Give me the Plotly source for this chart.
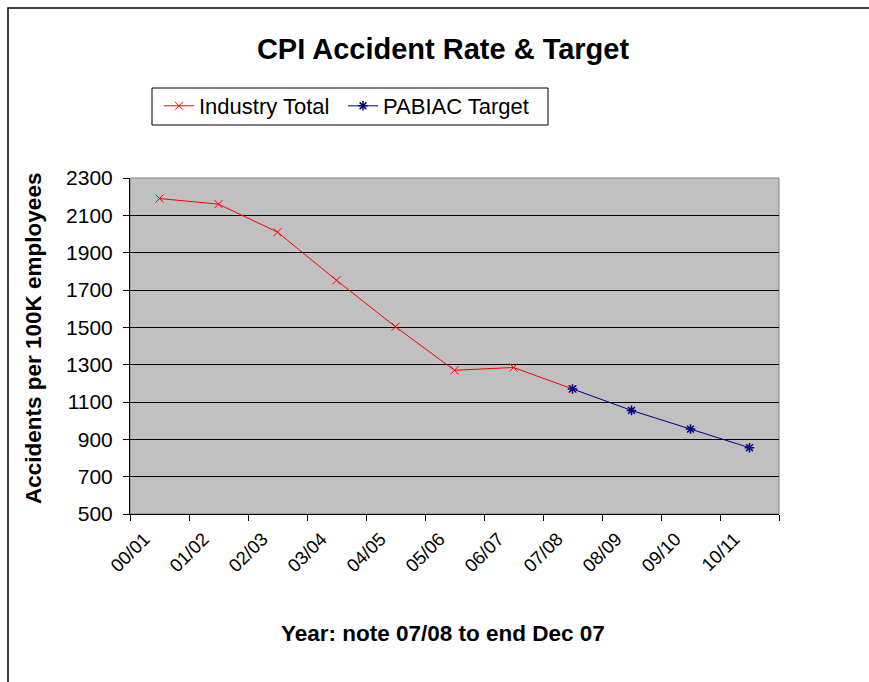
import plotly.graph_objects as go

categories = ["00/01", "01/02", "02/03", "03/04", "04/05", "05/06", "06/07", "07/08", "08/09", "09/10", "10/11"]
industry_cats = ["00/01", "01/02", "02/03", "03/04", "04/05", "05/06", "06/07", "07/08"]
industry_vals = [2190, 2160, 2010, 1752, 1503, 1270, 1285, 1170]
target_cats = ["07/08", "08/09", "09/10", "10/11"]
target_vals = [1170, 1055, 955, 855]
y_ticks = [500, 700, 900, 1100, 1300, 1500, 1700, 1900, 2100, 2300]

W, H = 869, 682
L, R, T, B = 130, 779, 178, 514


def px_x(p):
    return (p - L) / (R - L)


def px_y(p):
    return (B - p) / (B - T)


fig = go.Figure()
fig.add_trace(go.Scatter(
    x=industry_cats, y=industry_vals, name="Industry Total", mode="lines+markers",
    line=dict(color="#FF0000", width=1), legend="legend",
    marker=dict(symbol="x-thin-open", size=8, color="#FF0000", line=dict(color="#FF0000", width=1)),
))
fig.add_trace(go.Scatter(
    x=target_cats, y=target_vals, name="PABIAC Target", mode="lines+markers",
    line=dict(color="#000080", width=1), legend="legend2",
    marker=dict(symbol="asterisk-open", size=8, color="#000080", line=dict(color="#000080", width=1.5)),
))

font_family = "Liberation Sans, Arial, sans-serif"
legend_common = dict(orientation="h", xanchor="left", yanchor="middle", y=px_y(106),
                     borderwidth=0, bgcolor="rgba(0,0,0,0)",
                     font=dict(size=22, family=font_family), itemwidth=30)
fig.update_layout(
    width=W, height=H,
    margin=dict(l=L, r=W - R, t=T, b=H - B),
    paper_bgcolor="white", plot_bgcolor="#C0C0C0",
    font=dict(family=font_family, color="black", size=18),
    title=dict(text="<b>CPI Accident Rate &amp; Target</b>", x=443 / W, xanchor="center",
               y=1 - 49 / H, yanchor="middle", font=dict(size=29, family=font_family)),
    showlegend=True,
    legend=dict(x=px_x(159), **legend_common),
    legend2=dict(x=px_x(343), **legend_common),
    xaxis=dict(type="category", categoryorder="array", categoryarray=categories,
               range=[-0.5, 10.5], tickson="boundaries", ticks="outside", ticklen=6,
               tickcolor="black", showline=True, linecolor="black", linewidth=1,
               showgrid=False, tickangle=-45, tickfont=dict(size=18.5), zeroline=False,
               ticklabelshift=-15, ticklabelstandoff=6, fixedrange=True),
    yaxis=dict(range=[500, 2300], tickvals=y_ticks, ticks="outside", ticklen=6,
               tickcolor="black", showline=True, linecolor="black", linewidth=1,
               showgrid=True, gridcolor="black", gridwidth=1, zeroline=False,
               tickfont=dict(size=21), ticklabelstandoff=6),
    annotations=[
        dict(text="<b>Accidents per 100K employees</b>", xref="paper", yref="paper",
             x=px_x(33), y=px_y(339), textangle=-90, showarrow=False,
             xanchor="center", yanchor="middle", font=dict(size=22.5, family=font_family)),
        dict(text="<b>Year: note 07/08 to end Dec 07</b>", xref="paper", yref="paper",
             x=px_x(443), y=px_y(633), showarrow=False,
             xanchor="center", yanchor="middle", font=dict(size=22.5, family=font_family)),
    ],
    shapes=[
        dict(type="rect", xref="paper", yref="paper", x0=0, x1=1, y0=0, y1=1,
             line=dict(color="#808080", width=1), layer="below"),
        dict(type="rect", xref="paper", yref="paper",
             x0=px_x(152), x1=px_x(548), y0=px_y(125), y1=px_y(88),
             line=dict(color="black", width=1)),
        dict(type="rect", xref="paper", yref="paper",
             x0=px_x(8), x1=px_x(W + 20), y0=px_y(H + 20), y1=px_y(8),
             line=dict(color="black", width=1.5)),
    ],
)

fig.write_html("out.html", config={"displayModeBar": False},
               post_script="document.body.style.margin='0px';")
